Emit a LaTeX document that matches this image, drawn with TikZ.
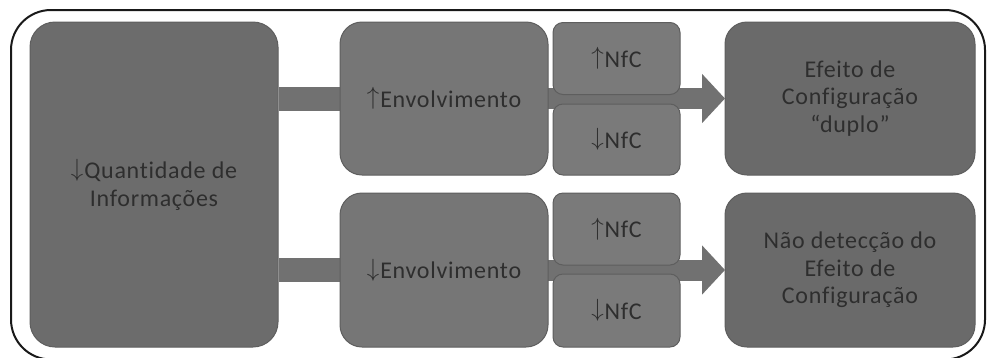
\documentclass[tikz,border=0pt]{standalone}
\usepackage{fontspec}
\setmainfont{Carlito}[LetterSpace=3,Ligatures={NoCommon}]
\usetikzlibrary{arrows.meta}
\definecolor{txt}{HTML}{2E2E2E}
\definecolor{boxline}{HTML}{5E5E5E}
\definecolor{bigfill}{HTML}{6C6C6C}
\definecolor{envfill}{HTML}{767676}
\definecolor{nfcfill}{HTML}{7A7A7A}
\definecolor{resfill}{HTML}{6A6A6A}
\definecolor{barfill}{HTML}{717171}
\newcommand{\upar}{\raisebox{2.5pt}{$\uparrow$}\kern1pt}
\newcommand{\dnar}{\raisebox{2.5pt}{$\downarrow$}\kern1pt}
\begin{document}
\begin{tikzpicture}[x=1pt,y=-1pt,
  box/.style={draw=boxline, line width=1pt, inner sep=0pt, align=center, text=txt,
    font=\fontsize{24}{27.5}\selectfont},
  bigbox/.style={box, fill=bigfill, rounded corners=25pt, minimum width=248pt, minimum height=325pt},
  envbox/.style={box, fill=envfill, rounded corners=22pt, minimum width=208pt, minimum height=153pt},
  nfcbox/.style={box, fill=nfcfill, rounded corners=10pt, minimum width=127pt, minimum height=72pt},
  resbox/.style={box, fill=resfill, rounded corners=22pt, minimum width=250pt, minimum height=153pt},
  bar/.style={draw=barfill, line width=24pt},
  arrowbar/.style={draw=barfill, line width=21pt, -{Triangle[length=23pt,width=48pt]}},
]
\useasboundingbox (0,0) rectangle (987,357);
\draw[line width=2pt, black!90, rounded corners=40pt] (11,10) rectangle (985,359.5);

\node[bigbox] (big) at (154,184.5) {\dnar Quantidade de\\Informações};
\coordinate (e1c) at (444,98.5);
\coordinate (e2c) at (444,270);
\coordinate (r1c) at (850,98.5);
\coordinate (r2c) at (850,270);

% connectors behind boxes
\draw[bar] (big.east |- e1c) -- (e1c);
\draw[bar] (big.east |- e2c) -- (e2c);
\draw[arrowbar] (e1c) -- (725,98.5) coordinate (t1);
\draw[arrowbar] (e2c) -- (725,270) coordinate (t2);

\node[envbox] (env1) at (e1c) {\upar Envolvimento};
\node[envbox, minimum height=154pt] (env2) at (e2c) {\dnar Envolvimento};
\node[nfcbox] (n1) at (616.5,58.5) {\upar NfC};
\node[nfcbox, minimum height=71pt] (n2) at (616.5,139.5) {\dnar NfC};
\node[nfcbox] (n3) at (616.5,229) {\upar NfC};
\node[nfcbox, minimum height=73pt] (n4) at (616.5,310.5) {\dnar NfC};
\node[resbox] (r1) at (r1c) {Efeito de\\Configuração\\“duplo”};
\node[resbox, minimum height=154pt] (r2) at (r2c) {Não detecção do\\Efeito de\\Configuração};
\end{tikzpicture}
\end{document}
